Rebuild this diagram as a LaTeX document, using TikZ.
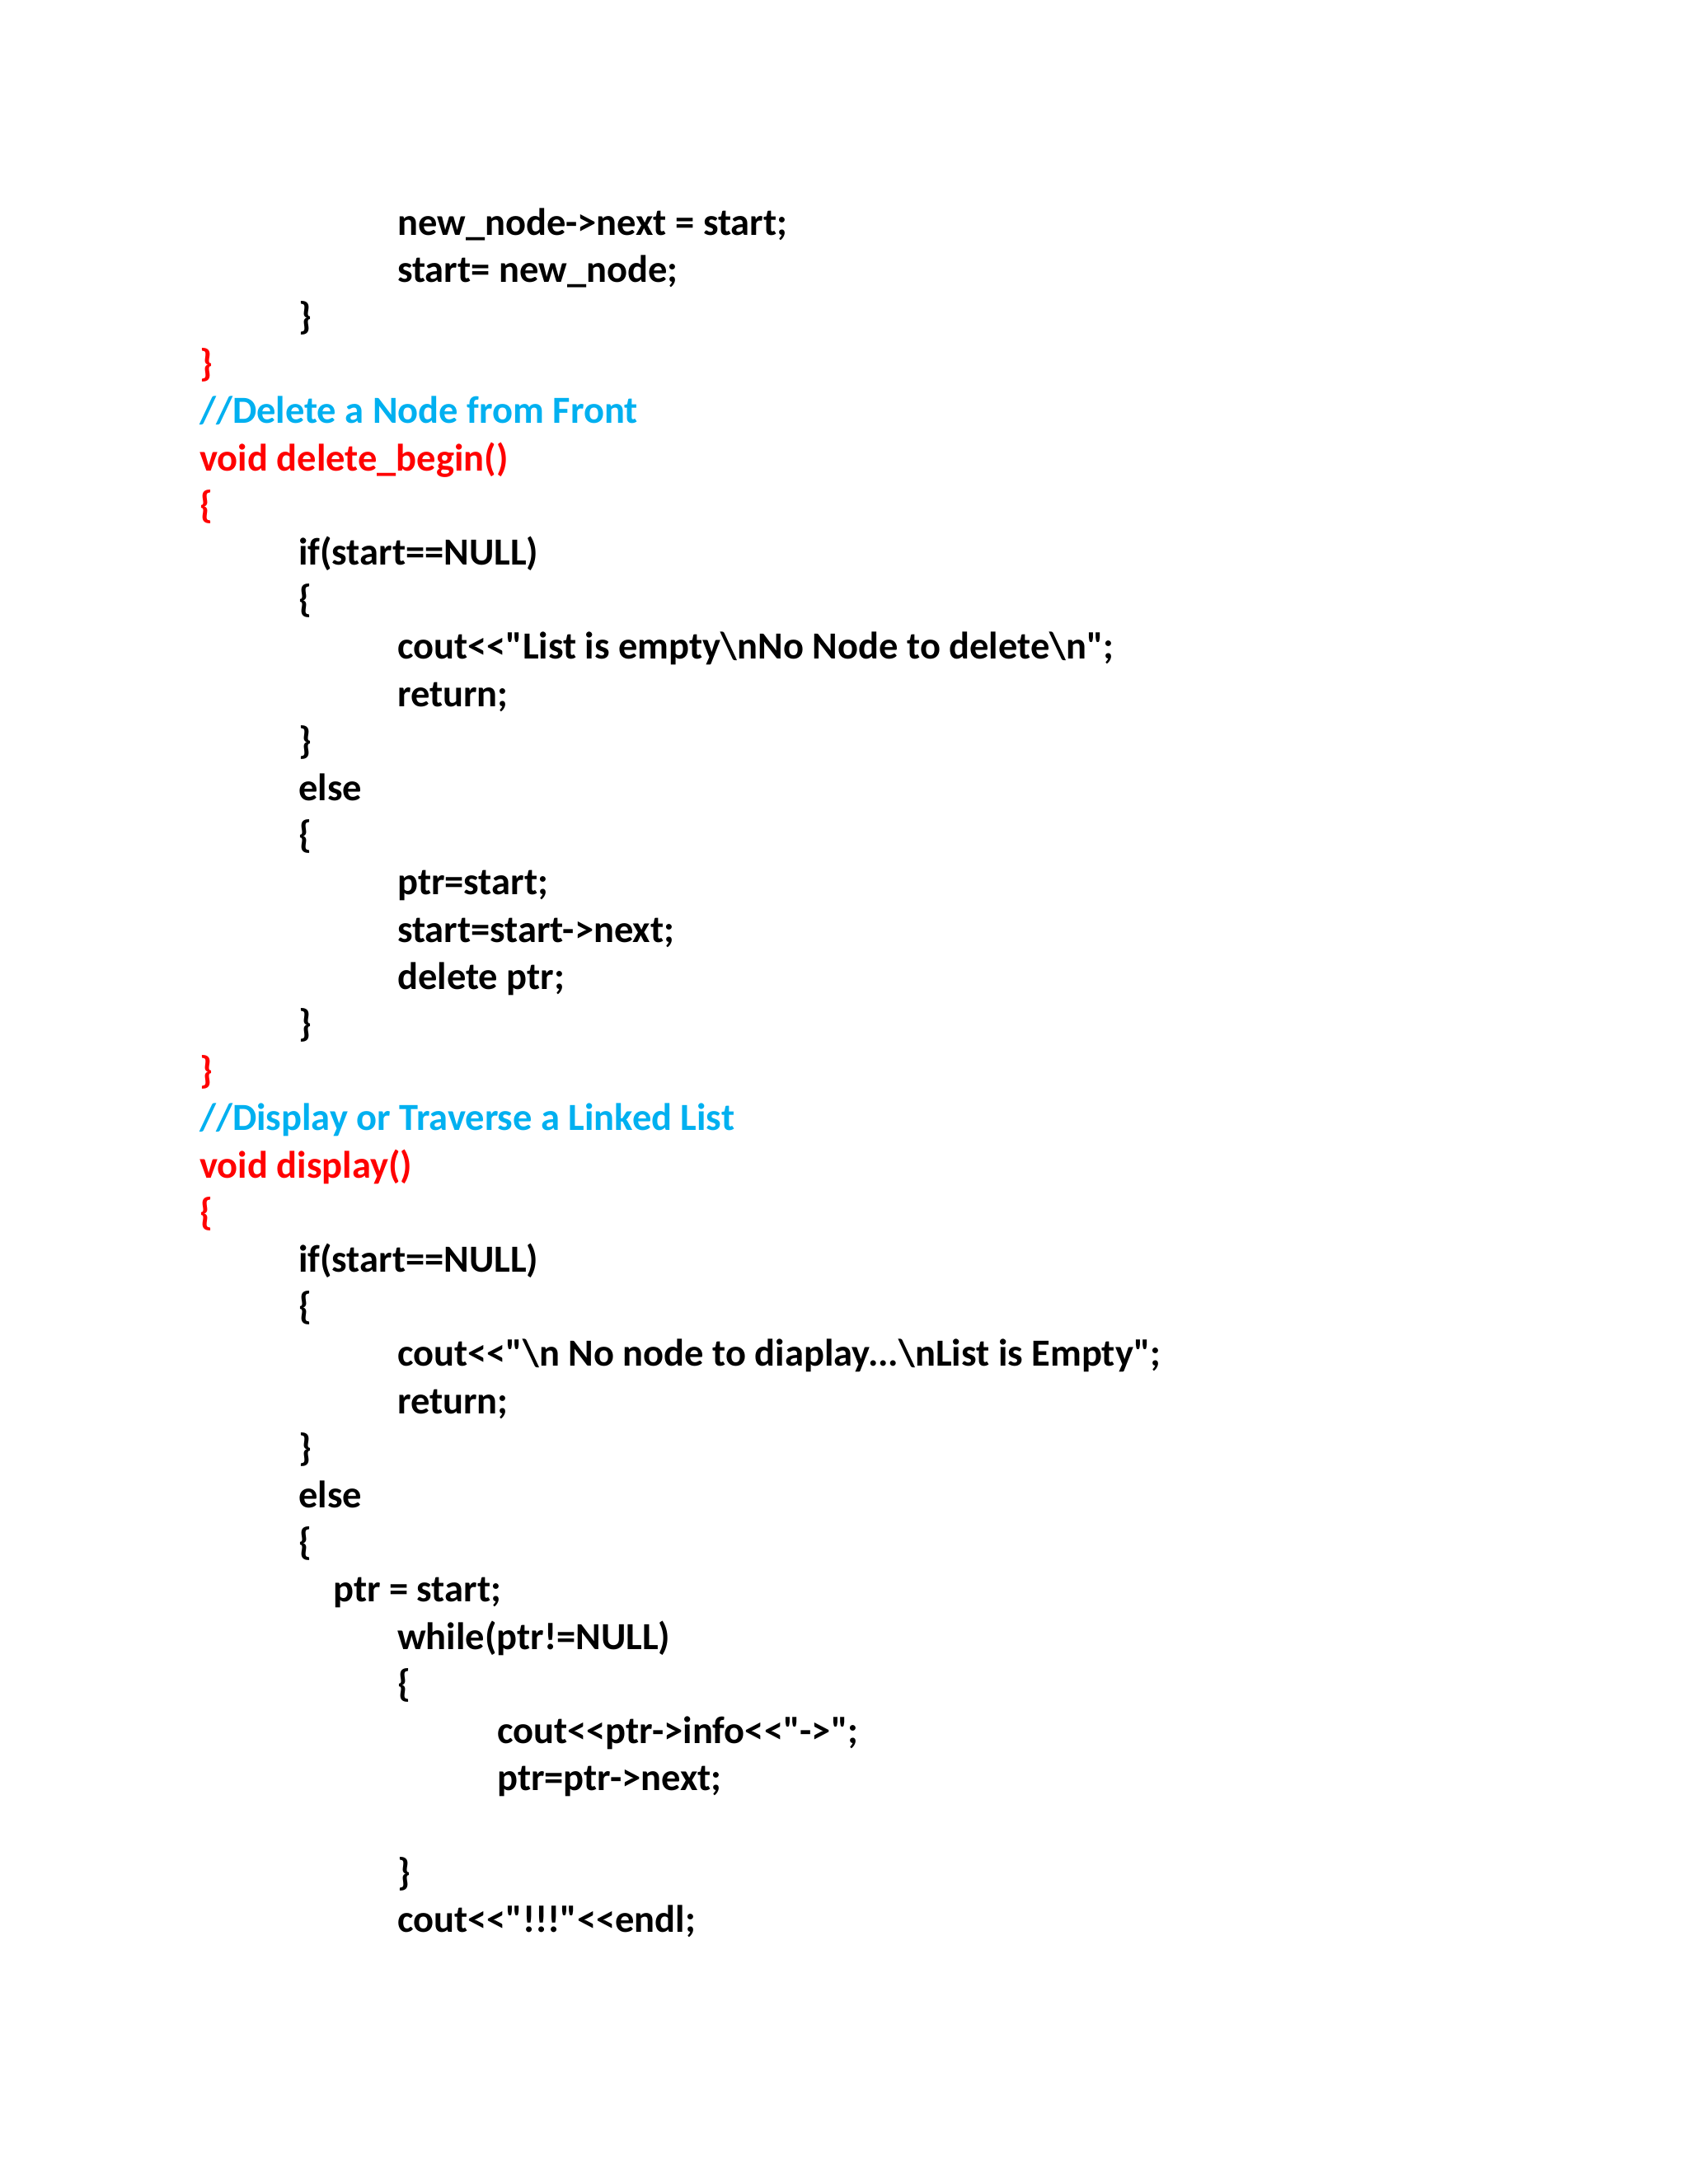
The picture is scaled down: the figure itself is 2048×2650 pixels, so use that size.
\documentclass[tikz,border=0pt]{standalone}
\usepackage{fontspec}
\setmainfont{Carlito}[Ligatures=TeXOff]
\definecolor{kred}{HTML}{FF0000}
\definecolor{kblue}{HTML}{00B0F0}
\begin{document}
\begin{tikzpicture}[x=1pt,y=-1pt,
  code/.style={anchor=base west,inner sep=0pt,font=\fontsize{46.5}{50}\selectfont\bfseries},
  red/.style={code,text=kred},
  cmt/.style={code,text=kblue}]
\useasboundingbox (0,0) rectangle (2048,2650);
\newcommand\codeln[4]{\node[#1] (l#2) at (#3,{270+57.2*(#2)+15}) {#4};}
\codeln{code}{0}{482}{new\_node->next = start;}
\codeln{code}{1}{482}{start= new\_node;}
\codeln{code}{2}{362}{\}}
\codeln{red}{3}{242}{\}}
\codeln{cmt}{4}{242}{//Delete a Node from Front}
\codeln{red}{5}{242}{void delete\_begin()}
\codeln{red}{6}{242}{\{}
\codeln{code}{7}{362}{if(start==NULL)}
\codeln{code}{8}{362}{\{}
\codeln{code}{9}{482}{cout<{}<"List is empty\textbackslash nNo Node to delete\textbackslash n";}
\codeln{code}{10}{482}{return;}
\codeln{code}{11}{362}{\}}
\codeln{code}{12}{362}{else}
\codeln{code}{13}{362}{\{}
\codeln{code}{14}{482}{ptr=start;}
\codeln{code}{15}{482}{start=start->next;}
\codeln{code}{16}{482}{delete ptr;}
\codeln{code}{17}{362}{\}}
\codeln{red}{18}{242}{\}}
\codeln{cmt}{19}{242}{//Display or Traverse a Linked List}
\codeln{red}{20}{242}{void display()}
\codeln{red}{21}{242}{\{}
\codeln{code}{22}{362}{if(start==NULL)}
\codeln{code}{23}{362}{\{}
\codeln{code}{24}{482}{cout<{}<"\textbackslash n No node to diaplay...\textbackslash nList is Empty";}
\codeln{code}{25}{482}{return;}
\codeln{code}{26}{362}{\}}
\codeln{code}{27}{362}{else}
\codeln{code}{28}{362}{\{}
\codeln{code}{29}{404}{ptr = start;}
\codeln{code}{30}{482}{while(ptr!=NULL)}
\codeln{code}{31}{482}{\{}
\codeln{code}{32}{603}{cout<{}<ptr->info<{}<"->";}
\codeln{code}{33}{603}{ptr=ptr->next;}
\codeln{code}{35}{482}{\}}
\codeln{code}{36}{482}{cout<{}<"!!!"<{}<endl;}
\end{tikzpicture}
\end{document}
